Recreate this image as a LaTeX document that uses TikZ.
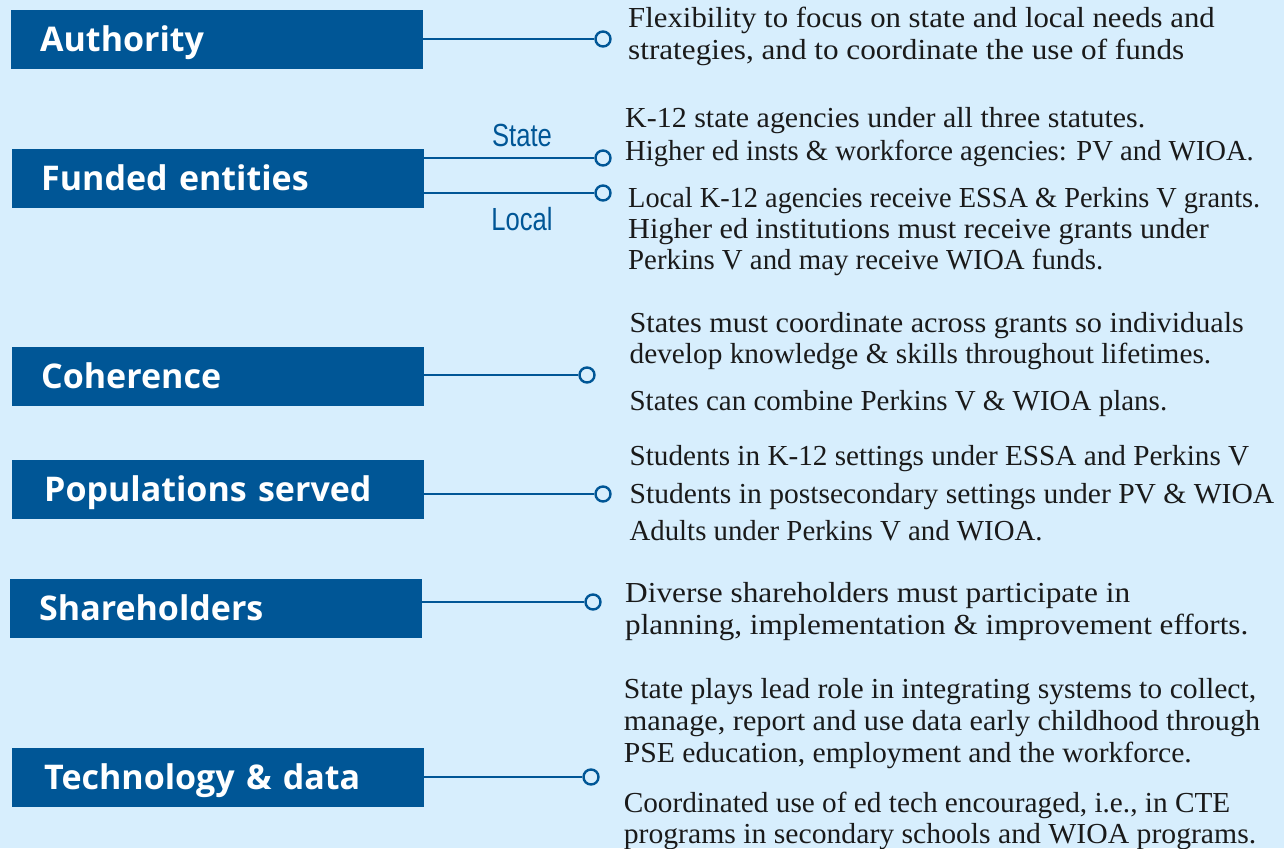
\documentclass[tikz,border=0pt]{standalone}
\usepackage{fontspec}
\usepackage{graphicx}
\setmainfont{Liberation Serif}
\newfontfamily\labelfont{Open Sans}
\newfontfamily\tagfont{Liberation Sans}
\definecolor{bg}{HTML}{D7EEFD}
\definecolor{navy}{HTML}{005696}
\definecolor{ink}{HTML}{1A1A1A}
\newcommand{\fitline}[2]{\resizebox{#1pt}{\height}{#2}}
\begin{document}
\begin{tikzpicture}[x=1pt,y=-1pt,
  catbox/.style={fill=navy, text=white, anchor=north west, minimum width=412pt, minimum height=58.5pt,
    text width=354pt, inner xsep=29pt, inner ysep=0pt, align=left, text height=24pt, text depth=0pt,
    font=\labelfont\bfseries\fontsize{34}{36}\selectfont},
  dot/.style={circle, draw=navy, fill=bg, line width=2.4pt, minimum size=15pt, inner sep=0pt},
  link/.style={draw=navy, line width=2.4pt},
  desc/.style={anchor=base west, inner sep=0pt, text=ink, font=\fontsize{29}{32}\selectfont},
  tag/.style={text=navy, inner sep=0pt, font=\tagfont\fontsize{32}{34}\selectfont}]
\fill[bg] (0,0) rectangle (1284,848);
\useasboundingbox (0,0) rectangle (1284,848);

% category boxes
\node[catbox] (b1) at (11,10) {Authority};
\node[catbox] (b2) at (12,149) {Funded entities};
\node[catbox] (b3) at (12,347) {Coherence};
\node[catbox] (b4) at (12,460) {\hspace*{3pt}Populations served};
\node[catbox] (b5) at (10,579) {Shareholders};
\node[catbox] (b6) at (12,748) {\hspace*{3pt}Technology \& data};

% end circles
\node[dot] (c1) at (603,39) {};
\node[dot] (c2s) at (603,158) {};
\node[dot] (c2l) at (603,193) {};
\node[dot] (c3) at (587,375) {};
\node[dot] (c4) at (603,494) {};
\node[dot] (c5) at (593,602) {};
\node[dot] (c6) at (591,777) {};

% connectors
\draw[link] (b1.east |- c1) -- (c1.west);
\draw[link] (b2.east |- c2s) -- (c2s.west);
\draw[link] (b2.east |- c2l) -- (c2l.west);
\draw[link] (b3.east |- c3) -- (c3.west);
\draw[link] (b4.east |- c4) -- (c4.west);
\draw[link] (b5.east |- c5) -- (c5.west);
\draw[link] (b6.east |- c6) -- (c6.west);

% tags
\node[tag] (tstate) at (522,135) {\scalebox{0.8}[1]{State}};
\node[tag] (tlocal) at (522,219) {\scalebox{0.8}[1]{Local}};

% descriptions
\node[desc] (d1a) at (628,28) {\fitline{586.5}{Flexibility to focus on state and local needs and}};
\node[desc] (d1b) at (628,60) {\fitline{556}{strategies, and to coordinate the use of funds}};
\node[desc] (d2a) at (625,128) {\fitline{520}{K-12 state agencies under all three statutes.}};
\node[desc] (d2b) at (625,160) {\fitline{628.6}{Higher ed insts \& workforce agencies: PV and WIOA.}};
\node[desc] (d2c) at (628,207) {\fitline{632}{Local K-12 agencies receive ESSA \& Perkins V grants.}};
\node[desc] (d2d) at (628,238) {\fitline{580.6}{Higher ed institutions must receive grants under}};
\node[desc] (d2e) at (628,269) {\fitline{475}{Perkins V and may receive WIOA funds.}};
\node[desc] (d3a) at (629.4,332) {\fitline{614.3}{States must coordinate across grants so individuals}};
\node[desc] (d3b) at (629.4,363) {\fitline{581.6}{develop knowledge \& skills throughout lifetimes.}};
\node[desc] (d3c) at (629.4,410) {\fitline{537.6}{States can combine Perkins V \& WIOA plans.}};
\node[desc] (d4a) at (629.4,465) {\fitline{619.6}{Students in K-12 settings under ESSA and Perkins V}};
\node[desc] (d4b) at (629.4,503) {\fitline{644.6}{Students in postsecondary settings under PV \& WIOA}};
\node[desc] (d4c) at (629.4,540) {\fitline{413}{Adults under Perkins V and WIOA.}};
\node[desc] (d5a) at (625,602) {\fitline{505}{Diverse shareholders must participate in}};
\node[desc] (d5b) at (625,634) {\fitline{623}{planning, implementation \& improvement efforts.}};
\node[desc] (d6a) at (623.6,698) {\fitline{632.4}{State plays lead role in integrating systems to collect,}};
\node[desc] (d6b) at (623.6,730) {\fitline{636.4}{manage, report and use data early childhood through}};
\node[desc] (d6c) at (623.6,762) {\fitline{568}{PSE education, employment and the workforce.}};
\node[desc] (d6d) at (623.6,812) {\fitline{606.4}{Coordinated use of ed tech encouraged, i.e., in CTE}};
\node[desc] (d6e) at (623.6,843) {\fitline{632.4}{programs in secondary schools and WIOA programs.}};
\end{tikzpicture}
\end{document}
